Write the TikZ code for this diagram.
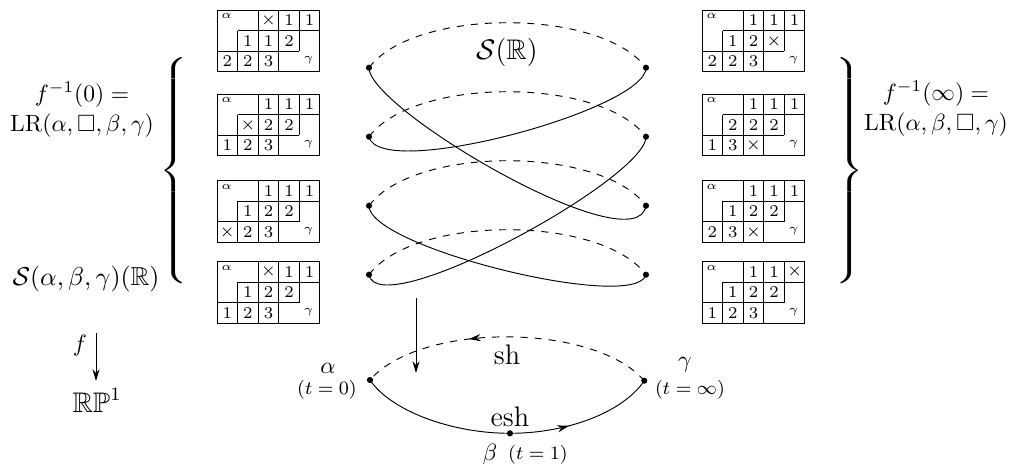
\documentclass[tikz,border=0pt]{standalone}
\usepackage{amsmath,amssymb}
\usetikzlibrary{arrows.meta,decorations.markings}
\tikzset{
  dot/.style={circle,fill,inner sep=0pt,minimum size=2.6pt},
  cellnum/.style={inner sep=0pt,font=\scriptsize},
  tinylbl/.style={inner sep=0pt,font=\tiny},
  lbl/.style={inner sep=0pt},
  bracelbl/.style={inner sep=0pt,xscale=1.35,transform shape},
  arr/.style={-{Stealth[length=5pt,width=3pt]}},
  midarrow/.style={postaction={decorate},decoration={markings,mark=at position #1 with {\arrow{Stealth[length=5pt,width=3pt]}}}},
}
\newcommand\sktab[5]{%
 \begin{scope}[shift={#2},x=8.73pt,y=-8.73pt]
  \draw (0,0) rectangle (5,3);
  \draw (1,1)--(5,1) (0,2)--(4,2)
        (2,0)--(2,1) (3,0)--(3,1) (4,0)--(4,1)
        (1,1)--(1,2) (2,1)--(2,2) (3,1)--(3,2) (4,1)--(4,2)
        (1,2)--(1,3) (2,2)--(2,3) (3,2)--(3,3);
  \node[tinylbl] (#1-a) at (0.47,0.3) {$\alpha$};
  \node[tinylbl] (#1-g) at (4.45,2.45) {$\gamma$};
  \foreach \e [count=\i] in {#3} \node[cellnum] (#1-1-\i) at (\i+1.5,0.5) {$\e$};
  \foreach \e [count=\i] in {#4} \node[cellnum] (#1-2-\i) at (\i+0.5,1.5) {$\e$};
  \foreach \e [count=\i] in {#5} \node[cellnum] (#1-3-\i) at (\i-0.5,2.5) {$\e$};
 \end{scope}}
\begin{document}
\begin{tikzpicture}[x=0.424pt,y=-0.424pt]
\useasboundingbox (0,0) rectangle (1010,463);

% left tableaux
\sktab{TL1}{(217,10)}{\times,1,1}{1,1,2}{2,2,3}
\sktab{TL2}{(217,94)}{1,1,1}{\times,2,2}{1,2,3}
\sktab{TL3}{(217,180.5)}{1,1,1}{1,2,2}{\times,2,3}
\sktab{TL4}{(217,261.5)}{\times,1,1}{1,2,2}{1,2,3}
% right tableaux
\sktab{TR1}{(702,10)}{1,1,1}{1,2,\times}{2,2,3}
\sktab{TR2}{(702,94)}{1,1,1}{2,2,2}{1,3,\times}
\sktab{TR3}{(702,180.5)}{1,1,1}{1,2,2}{2,3,\times}
\sktab{TR4}{(702,261.5)}{1,1,\times}{1,2,2}{1,2,3}

% left texts
\node[lbl,align=center] (fzero) at (82,110) {$f^{-1}(0) =$\\[1pt] $\mathrm{LR}(\alpha,\square,\beta,\gamma)$};
\node[bracelbl] (lbrace) at (176,171) {$\left\{\vcenter{\hrule height 98pt width 0pt}\right.$};
\node[lbl] (SR) at (86,279) {\fontsize{11pt}{13pt}\selectfont$\mathcal{S}(\alpha,\beta,\gamma)(\mathbb{R})$};
\coordinate (fa) at (96,333);
\coordinate (fb) at (96,381);
\draw[arr] (fa) -- (fb);
\node[lbl] (flbl) at (80,346) {$f$};
\node[lbl] (RP) at (97,400) {\large$\mathbb{RP}^1$};

% right texts
\node[lbl,align=center] (finf) at (936,109) {$f^{-1}(\infty) =$\\[1pt] $\mathrm{LR}(\alpha,\beta,\square,\gamma)$};
\node[bracelbl] (rbrace) at (848,171) {$\left.\vcenter{\hrule height 98pt width 0pt}\right\}$};

% central curve
\node[dot] (L1) at (369,67.7) {};
\node[dot] (L2) at (369,136.7) {};
\node[dot] (L3) at (369,205.7) {};
\node[dot] (L4) at (369,274.7) {};
\node[dot] (R1) at (646,67.7) {};
\node[dot] (R2) at (646,136.7) {};
\node[dot] (R3) at (646,205.7) {};
\node[dot] (R4) at (646,274.7) {};
\foreach \k in {1,2,3,4}
  \draw[dashed] (L\k.center) .. controls +(45,-60) and +(-45,-60) .. (R\k.center);
\draw (L1.center) .. controls +(0,42) and +(-10,60) .. (R3.center);
\draw (R1.center) .. controls +(0,42) and +(10,45) .. (L2.center);
\draw (R2.center) .. controls +(0,42) and +(10,50) .. (L4.center);
\draw (L3.center) .. controls +(0,42) and +(-10,38) .. (R4.center);
\node[lbl] (SRc) at (507,52) {\large$\mathcal{S}(\mathbb{R})$};

% vertical arrow
\coordinate (va) at (416,298);
\coordinate (vb) at (416,373);
\draw[arr] (va) -- (vb);

% bottom circle
\node[dot] (A) at (370,380) {};
\node[dot] (B) at (510,433.3) {};
\node[dot] (G) at (644.3,380.7) {};
\draw[dashed,midarrow=0.63] (G.center) .. controls +(-50,-58) and +(50,-58) .. (A.center);
\draw (A.center) .. controls +(20,30) and +(-60,0) .. (B.center);
\draw[midarrow=0.4] (B.center) .. controls +(60,0) and +(-20,30) .. (G.center);
\node[lbl] (sh) at (507,355) {\large sh};
\node[lbl] (esh) at (510,417) {\large esh};
\node[lbl] (alab) at (328,368) {$\alpha$};
\node[lbl] (at) at (327,390) {\footnotesize$(t=0)$};
\node[lbl] (glab) at (685,365) {$\gamma$};
\node[lbl] (gt) at (690,390) {\footnotesize$(t=\infty)$};
\node[lbl] (blab) at (490,455) {$\beta$};
\node[lbl] (bt) at (538,455) {\footnotesize$(t=1)$};
\end{tikzpicture}
\end{document}
